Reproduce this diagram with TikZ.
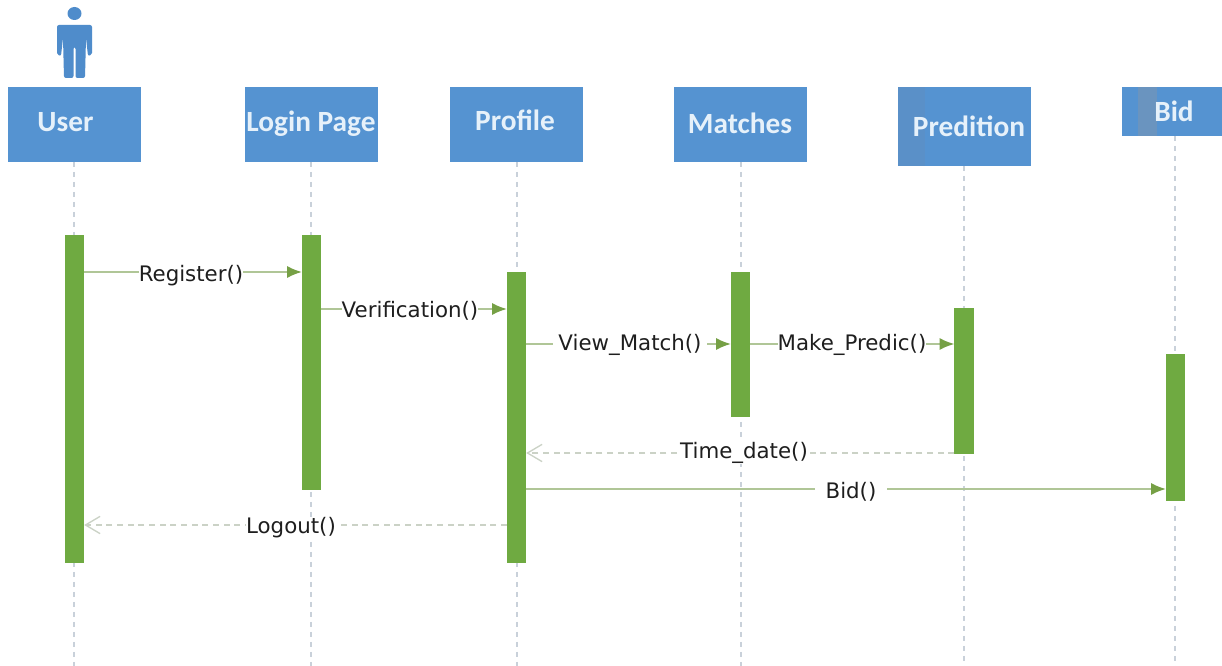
\documentclass[tikz,border=0pt]{standalone}
\usepackage{fontspec}
\setmainfont{DejaVu Sans}
\newfontfamily\hdfont{Carlito}[BoldFont={Carlito Bold}]
\usetikzlibrary{arrows.meta}
\definecolor{boxblue}{HTML}{5593D1}
\definecolor{stripeblue}{HTML}{5A90C8}
\definecolor{stripeblueb}{HTML}{6A94BF}
\definecolor{actorblue}{HTML}{4F8CCB}
\definecolor{hdtext}{HTML}{E6F1FA}
\definecolor{barGreen}{HTML}{6FAA41}
\definecolor{msgline}{HTML}{B0C697}
\definecolor{msgtip}{HTML}{76A045}
\definecolor{retline}{HTML}{CBD2C6}
\definecolor{lifeline}{HTML}{C9D1DA}
\definecolor{labeltext}{HTML}{1E1E1E}
\tikzset{
  hdr/.style={draw=none,fill=boxblue,anchor=north west,inner sep=0pt,outer sep=0pt},
  hdrtxt/.style={font=\hdfont\bfseries\fontsize{22pt}{24pt}\selectfont,text=hdtext,inner sep=0pt},
  bar/.style={fill=barGreen,draw=none,anchor=north,inner sep=0pt,outer sep=0pt,minimum width=14.5pt},
  life/.style={draw=lifeline,line width=1.2pt,dash pattern=on 4pt off 3.5pt},
  msg/.style={draw=msgline,line width=1.2pt,-{Latex[length=11pt,width=9pt,color=msgtip]}},
  ret/.style={draw=retline,line width=1.1pt,dash pattern=on 4.5pt off 3.5pt,-{Straight Barb[length=11pt,width=13pt,color=retline,line width=1pt]}},
  lbl/.style={font=\fontsize{16pt}{18pt}\selectfont,text=labeltext,fill=white,inner xsep=0pt,inner ysep=0pt}
}
\begin{document}
\begin{tikzpicture}[x=0.75pt,y=-0.75pt]
\useasboundingbox[fill=white] (0,0) rectangle (1222,666);

% actor
\fill[actorblue] (74.5,13.5) ellipse (7 and 6.5);
\fill[actorblue,rounded corners=1.5pt] (57,25) -- (92,25) -- (92,55) -- (88,56) -- (86,38) -- (85,78) -- (75.5,78) -- (75.5,47) -- (73.5,47) -- (73.5,78) -- (64,78) -- (63,38) -- (61,56) -- (57,55) -- cycle;

% header boxes
\node[hdr,minimum width=99.75pt,minimum height=56.25pt] (user) at (8,87) {};
\node[hdr,minimum width=99.75pt,minimum height=56.25pt] (login) at (245,87) {};
\node[hdr,minimum width=99.75pt,minimum height=56.25pt] (profile) at (450,87) {};
\node[hdr,minimum width=99.75pt,minimum height=56.25pt] (matches) at (674,87) {};
\node[hdr,minimum width=99.75pt,minimum height=59.25pt] (predition) at (898,87) {};
\node[hdr,minimum width=75pt,minimum height=36.75pt] (bid) at (1122,87) {};
\fill[stripeblue] (898,87) rectangle (925,166);
\fill[stripeblueb] (1138,87) rectangle (1157,136);

\node[hdrtxt] (tuser) at (65.5,122) {User};
\node[hdrtxt] (tlogin) at (311,124) {Login Page};
\node[hdrtxt] (tprofile) at (515,120) {Profile};
\node[hdrtxt] (tmatches) at (740,123) {Matches};
\node[hdrtxt] (tpredition) at (969,126) {Predition};
\node[hdrtxt] (tbid) at (1174,111) {Bid};

% lifeline ends
\coordinate (userEnd) at (74,666);
\coordinate (loginEnd) at (311,666);
\coordinate (profileEnd) at (517,666);
\coordinate (matchesEnd) at (741,666);
\coordinate (preditionEnd) at (964,666);
\coordinate (bidEnd) at (1175,666);

% lifelines
\draw[life] (user.south -| userEnd) -- (userEnd);
\draw[life] (login.south -| loginEnd) -- (loginEnd);
\draw[life] (profile.south -| profileEnd) -- (profileEnd);
\draw[life] (matches.south -| matchesEnd) -- (matchesEnd);
\draw[life] (predition.south -| preditionEnd) -- (preditionEnd);
\draw[life] (bid.south -| bidEnd) -- (bidEnd);

% activation bars
\node[bar,minimum height=246pt] (auser) at (74.5,235) {};
\node[bar,minimum height=191.25pt] (alogin) at (311.5,235) {};
\node[bar,minimum height=218.25pt] (aprofile) at (516.5,272) {};
\node[bar,minimum height=108.75pt] (amatches) at (740.5,272) {};
\node[bar,minimum height=109.5pt] (apredition) at (964,308) {};
\node[bar,minimum height=110.25pt] (abid) at (1175.5,354) {};

% messages
\draw[msg] (auser.east |- 0,272) -- (alogin.west |- 0,272);
\draw[msg] (alogin.east |- 0,309) -- (aprofile.west |- 0,309);
\draw[msg] (aprofile.east |- 0,344) -- (amatches.west |- 0,344);
\draw[msg] (amatches.east |- 0,344) -- (apredition.west |- 0,344);
\draw[ret] (apredition.west |- 0,453) -- (aprofile.east |- 0,453);
\draw[msg] (aprofile.east |- 0,489) -- (abid.west |- 0,489);
\draw[ret] (aprofile.west |- 0,525) -- (auser.east |- 0,525);

% message labels
\node[lbl] (m1) at (191,276) {Register()};
\node[lbl] (m2) at (410,311) {Verification()};
\node[lbl,inner xsep=4pt] (m3) at (630,345) {View\_Match()};
\node[lbl] (m4) at (852,345) {Make\_Predic()};
\node[lbl] (m5) at (744,453) {Time\_date()};
\node[lbl,inner xsep=8pt] (m6) at (851,492) {Bid()};
\node[lbl] (m7) at (291,528) {Logout()};
\end{tikzpicture}
\end{document}
